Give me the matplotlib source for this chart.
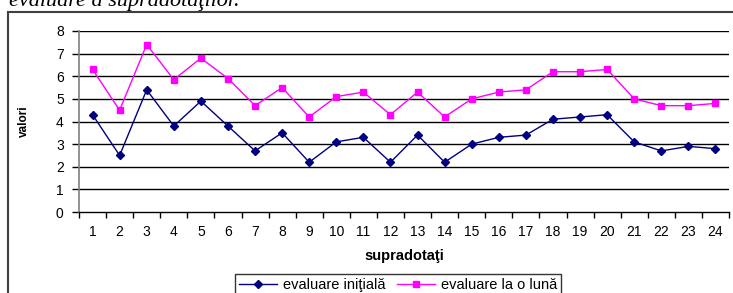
import matplotlib
matplotlib.use("Agg")
import matplotlib.pyplot as plt
from matplotlib.patches import Rectangle
from matplotlib.ticker import FixedLocator

plt.rcParams['font.family'] = ['Liberation Sans', 'DejaVu Sans']

categories = list(range(1, 25))
initial = [4.3, 2.5, 5.4, 3.8, 4.9, 3.8, 2.7, 3.5, 2.2, 3.1, 3.3, 2.2,
           3.4, 2.2, 3.0, 3.3, 3.4, 4.1, 4.2, 4.3, 3.1, 2.7, 2.9, 2.8]
one_month = [6.3, 4.5, 7.4, 5.85, 6.8, 5.9, 4.7, 5.5, 4.2, 5.1, 5.3, 4.3,
             5.3, 4.2, 5.0, 5.3, 5.4, 6.2, 6.2, 6.3, 5.0, 4.7, 4.7, 4.8]
series_names = ["evaluare iniţială", "evaluare la o lună"]
y_ticks = list(range(0, 9))

W, H = 733, 293
fig = plt.figure(figsize=(W / 100, H / 100), dpi=100)

# outer chart frame
fig.patches.append(Rectangle((8 / W, -0.1), 1.2, 1 - 12 / H + 0.1, transform=fig.transFigure,
                             fill=False, edgecolor='#404040', linewidth=1.5, clip_on=False))

# partially cut caption above
fig.text(240 / W, 1 - 6 / H, "evaluare a supradotaţilor.", ha='right', va='baseline',
         fontsize=16, style='italic', family=['Liberation Serif', 'DejaVu Serif'])

ax = fig.add_axes([79 / W, 1 - 212 / H, 650 / W, 181 / H])
ax.plot(categories, initial, color='#000080', marker='D', markersize=4, linewidth=1,
        label=series_names[0])
ax.plot(categories, one_month, color='#FF00FF', marker='s', markersize=5, linewidth=1,
        label=series_names[1])

ax.set_xlim(0.5, 24.5)
ax.set_ylim(0, 8)
ax.set_yticks(y_ticks)
ax.set_xticks(categories)
ax.xaxis.set_minor_locator(FixedLocator([c - 0.5 for c in categories] + [24.5]))
ax.tick_params(axis='x', which='major', length=0, pad=9, labelsize=10)
ax.tick_params(axis='x', which='minor', length=4, direction='out', width=1)
ax.tick_params(axis='y', length=5, width=1, labelsize=10, pad=6)

for y in y_ticks[1:]:
    ax.axhline(y, color='black', linewidth=1, zorder=0.5)

for s in ['top', 'right']:
    ax.spines[s].set_visible(False)
ax.spines['left'].set_color('#808080')
ax.spines['left'].set_linewidth(1.2)
ax.spines['bottom'].set_color('black')
ax.spines['bottom'].set_linewidth(1)

ax.set_ylabel("valori", fontsize=8.5, fontweight='bold')
ax.yaxis.set_label_coords((30 - 79) / 650, 0.5)
ax.set_xlabel("supradotaţi", fontsize=10.5, fontweight='bold')
ax.xaxis.set_label_coords(0.5, -(249 - 212) / 181)

leg = fig.legend(loc='upper center', bbox_to_anchor=(398 / W, 1 - 274 / H), ncol=2,
                 fontsize=10.5, frameon=True, fancybox=False, edgecolor='black',
                 handlelength=2.6, columnspacing=0.8, handletextpad=0.4, borderpad=0.25,
                 borderaxespad=0)
leg.get_frame().set_linewidth(1)

fig.savefig("out.png", dpi=100)
